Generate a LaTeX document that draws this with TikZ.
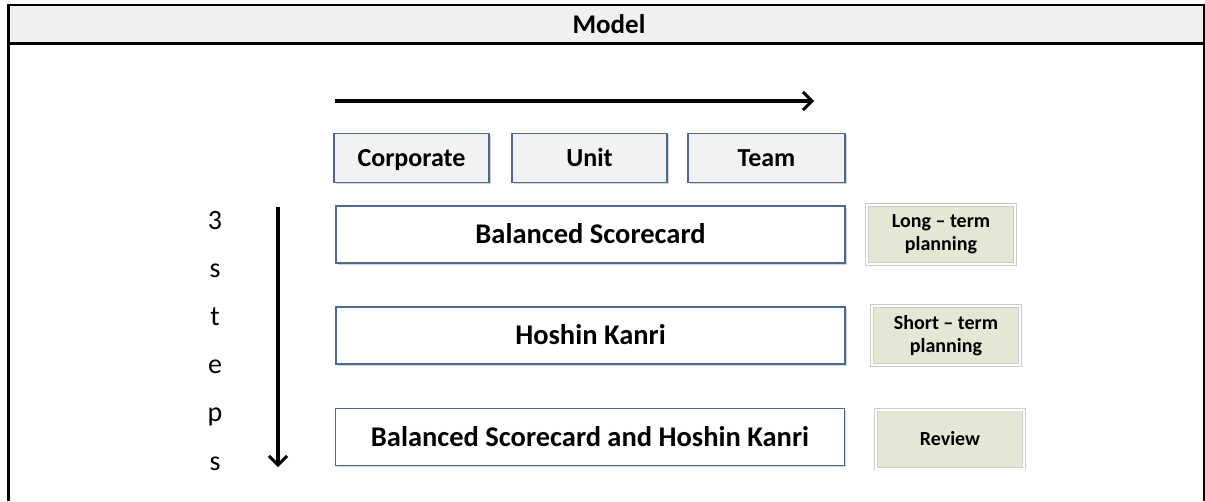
\documentclass[tikz,border=0pt]{standalone}
\usepackage{fontspec}
\setmainfont{Carlito}
\usetikzlibrary{arrows.meta,shadows,positioning}

\definecolor{boxline}{HTML}{4A6A94}
\definecolor{levelfill}{HTML}{F2F2F2}
\definecolor{phasefill}{HTML}{E3E8D5}
\definecolor{headfill}{HTML}{F0F0F0}

\tikzset{
  softshadow/.style={drop shadow={opacity=0.35,shadow xshift=1.5pt,shadow yshift=-1.5pt}},
  level/.style={draw=boxline,line width=1.8pt,fill=levelfill,minimum height=49pt,
    text height=16.5pt,text depth=0pt,
    font=\bfseries\fontsize{26}{28}\selectfont,softshadow},
  stage/.style={draw=boxline,line width=1.8pt,fill=white,minimum width=509pt,
    minimum height=57pt,text height=18pt,text depth=0pt,
    font=\bfseries\fontsize{28.5}{30}\selectfont,softshadow},
  phase/.style={draw=gray!40,line width=0.6pt,double=white,double distance=2pt,
    fill=phasefill,minimum width=148pt,minimum height=59pt,align=center,
    font=\bfseries\fontsize{20}{23}\selectfont,softshadow},
  flow/.style={line width=3.5pt,-{Straight Barb[length=9pt,width=18pt,line width=3pt]}},
}

\begin{document}
\begin{tikzpicture}[x=1pt,y=-1pt]
  \useasboundingbox (0,0) rectangle (1205,501);

  % table frame
  \fill[headfill] (8,5) rectangle (1204,43);
  \draw[line width=1.5pt] (8,5) -- (1205,5);
  \draw[line width=3pt] (8,43) -- (1205,43);
  \draw[line width=3pt] (8,4) -- (8,501);
  \draw[line width=2pt] (1204,4) -- (1204,501);
  \node[font=\bfseries\fontsize{27}{29}\selectfont] (model) at (609,24) {Model};

  % organisation levels
  \coordinate (flowstart) at (335,101);
  \coordinate (flowend) at (814,101);
  \draw[flow] (flowstart) -- (flowend);
  \node[level,minimum width=155pt] (corporate) at (411.5,158) {Corporate};
  \node[level,minimum width=155pt] (unit) at (589.5,158) {Unit};
  \node[level,minimum width=157pt] (team) at (766.5,158) {Team};

  % three steps
  \node[stage] (bsc) at (590.5,234.5) {Balanced Scorecard};
  \node[stage] (hoshin) at (590.5,335.5) {Hoshin Kanri};
  \node[stage] (both) at (590,437) {Balanced Scorecard and Hoshin Kanri};

  % planning horizon
  \node[phase] (longterm) at (941,234.5) {Long -- term\\planning};
  \node[phase] (shortterm) at (946,335.5) {Short -- term\\planning};
  \node[phase] (review) at (950,439) {Review};

  % step label
  \coordinate (stepstart) at (278,207);
  \coordinate (stepend) at (278,467);
  \draw[flow] (stepstart) -- (stepend);
  \foreach \ch [count=\i] in {3,s,t,e,p,s}
    \node[anchor=base,font=\fontsize{28}{30}\selectfont,inner sep=0pt] (letter\i)
      at (215,{229+48.2*(\i-1)}) {\ch};
\end{tikzpicture}
\end{document}
